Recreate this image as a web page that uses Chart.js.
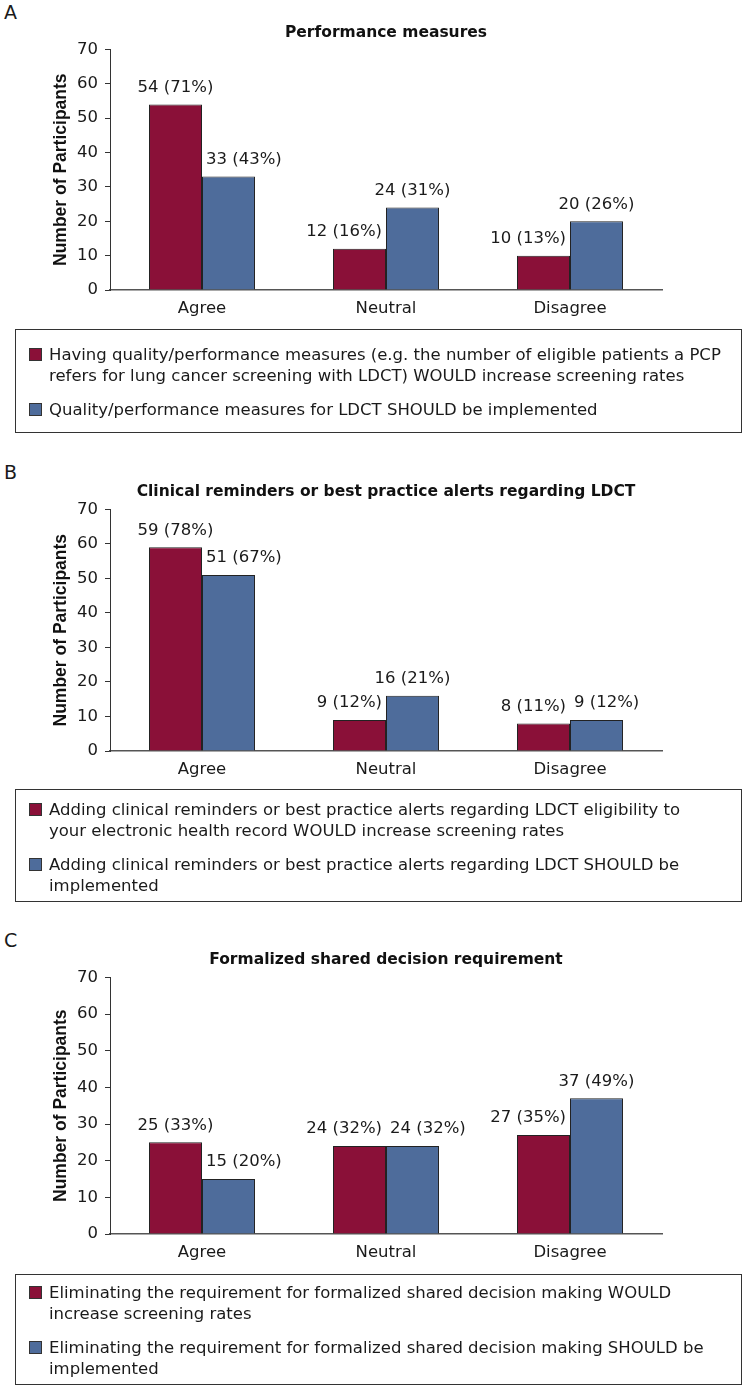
<!DOCTYPE html>
<html>
<head>
<meta charset="utf-8">
<title>LDCT survey - panels A, B, C</title>
<script src="https://cdn.jsdelivr.net/npm/chart.js@4.4.1/dist/chart.umd.min.js"></script>
<style>
  body { margin: 0; background: #fff; }
  #page { position: relative; width: 744px; height: 1386px; overflow: hidden;
          font-family: "DejaVu Sans", sans-serif; color: #1a1a1a; }
  .panel-letter { position: absolute; left: 4px; font-size: 19px; line-height: 20px; }
  #page canvas { position: absolute; left: 0; }
  .legend-box { position: absolute; left: 15px; width: 727px; border: 1px solid #333;
                box-sizing: border-box; font-size: 16.5px; line-height: 21px; }
  .legend-item { position: relative; padding-left: 33px; white-space: pre; margin-bottom: 13px; }
  .legend-item:last-child { margin-bottom: 0; }
  .legend-item .swatch { position: absolute; left: 13px; top: 4px; width: 13px; height: 13px;
                         border: 1px solid #333; box-sizing: border-box; }
</style>
</head>
<body>
<div id="page"></div>
<script>
//--- Data
var categories = ['Agree', 'Neutral', 'Disagree'];
var yMax = 70;
var yStep = 10;
var yTitle = 'Number of Participants';

var titleA = 'Performance measures';
var wouldA = [54, 12, 10];
var wouldPctA = [71, 16, 13];
var shouldA = [33, 24, 20];
var shouldPctA = [43, 31, 26];
var legendA = [
    'Having quality/performance measures (e.g. the number of eligible patients a PCP\nrefers for lung cancer screening with LDCT) WOULD increase screening rates',
    'Quality/performance measures for LDCT SHOULD be implemented'
];

var titleB = 'Clinical reminders or best practice alerts regarding LDCT';
var wouldB = [59, 9, 8];
var wouldPctB = [78, 12, 11];
var shouldB = [51, 16, 9];
var shouldPctB = [67, 21, 12];
var legendB = [
    'Adding clinical reminders or best practice alerts regarding LDCT eligibility to\nyour electronic health record WOULD increase screening rates',
    'Adding clinical reminders or best practice alerts regarding LDCT SHOULD be\nimplemented'
];

var titleC = 'Formalized shared decision requirement';
var wouldC = [25, 24, 27];
var wouldPctC = [33, 32, 35];
var shouldC = [15, 24, 37];
var shouldPctC = [20, 32, 49];
var legendC = [
    'Eliminating the requirement for formalized shared decision making WOULD\nincrease screening rates',
    'Eliminating the requirement for formalized shared decision making SHOULD be\nimplemented'
];

var wouldColor = '#8a1038';
var shouldColor = '#4e6c9b';

//--- Value labels above the bars, pushed aside when they would hit the other bar
var barLabels = {
    id: 'barLabels',
    afterDatasetsDraw: function (chart, args, opts) {
        var ctx = chart.ctx;
        var redBars = chart.getDatasetMeta(0).data;
        var blueBars = chart.getDatasetMeta(1).data;
        var sets = chart.data.datasets;
        ctx.save();
        ctx.font = '16.5px "DejaVu Sans"';
        ctx.fillStyle = '#1a1a1a';
        ctx.textAlign = 'center';
        ctx.textBaseline = 'middle';
        for (var i = 0; i < redBars.length; i++) {
            var r = redBars[i], b = blueBars[i];
            var tr = sets[0].data[i] + ' (' + opts.percents[0][i] + '%)';
            var tb = sets[1].data[i] + ' (' + opts.percents[1][i] + '%)';
            var wr = ctx.measureText(tr).width;
            var wb = ctx.measureText(tb).width;
            var edge = (r.x + b.x) / 2;
            var yr = r.y - opts.lift, yb = b.y - opts.lift;
            var xr = r.x, xb = b.x;
            var clash = Math.abs(yr - yb) < 18;
            if (clash || yr + 9 > b.y) xr = Math.min(xr, edge - opts.gap - wr / 2);
            if (clash || yb + 9 > r.y) xb = Math.max(xb, edge + opts.gap + wb / 2);
            ctx.fillText(tr, xr, yr);
            ctx.fillText(tb, xb, yb);
        }
        ctx.restore();
    }
};

function makePanel(p) {
    var page = document.getElementById('page');

    var letter = document.createElement('div');
    letter.className = 'panel-letter';
    letter.style.top = (p.letterY - 10) + 'px';
    letter.textContent = p.letter;
    page.appendChild(letter);

    var canvas = document.createElement('canvas');
    canvas.width = 744;
    canvas.height = p.canvasHeight + 42;
    canvas.style.top = p.canvasTop + 'px';
    page.appendChild(canvas);

    var chart = new Chart(canvas, {
        type: 'bar',
        data: {
            labels: categories,
            datasets: [
                {
                    label: p.legend[0],
                    data: p.would,
                    backgroundColor: wouldColor,
                    borderColor: '#222',
                    borderWidth: 1,
                    categoryPercentage: 0.576,
                    barPercentage: 1.0
                },
                {
                    label: p.legend[1],
                    data: p.should,
                    backgroundColor: shouldColor,
                    borderColor: '#222',
                    borderWidth: 1,
                    categoryPercentage: 0.576,
                    barPercentage: 1.0
                }
            ]
        },
        options: {
            responsive: false,
            animation: false,
            devicePixelRatio: 1,
            layout: { padding: { left: 0, right: 82, top: 0, bottom: 0 } },
            plugins: {
                legend: { display: false },
                tooltip: { enabled: false },
                title: {
                    display: true,
                    text: p.title,
                    fullSize: false,
                    color: '#111',
                    font: { family: 'DejaVu Sans', size: 15.5, weight: 'bold', lineHeight: 1.2 },
                    padding: { top: p.titleTop, bottom: p.titleBottom }
                },
                barLabels: { percents: p.percents, lift: 17, gap: 4 }
            },
            scales: {
                x: {
                    grid: { display: false },
                    border: { display: true, color: '#555', width: 1.5 },
                    ticks: {
                        color: '#1a1a1a',
                        padding: 1,
                        font: { family: 'DejaVu Sans', size: 16.5 }
                    },
                    afterFit: function (scale) { scale.height = 42; }
                },
                y: {
                    min: 0,
                    max: yMax,
                    grid: { drawOnChartArea: false, drawTicks: true, tickLength: 5, color: '#333' },
                    border: { display: true, color: '#333', width: 1 },
                    ticks: {
                        stepSize: yStep,
                        color: '#1a1a1a',
                        padding: 7,
                        font: { family: 'DejaVu Sans', size: 16.5 }
                    },
                    title: {
                        display: true,
                        text: yTitle,
                        color: '#111',
                        font: { family: 'Liberation Sans', size: 17.5, weight: 'bold', lineHeight: 1.2 },
                        padding: { top: 51, bottom: 0 }
                    },
                    afterFit: function (scale) { scale.width = 110; }
                }
            }
        },
        plugins: [barLabels]
    });

    // legend box built from the chart's datasets
    var box = document.createElement('div');
    box.className = 'legend-box';
    box.style.top = p.legendTop + 'px';
    box.style.height = p.legendHeight + 'px';
    box.style.paddingTop = p.legendPad + 'px';
    chart.data.datasets.forEach(function (ds) {
        var item = document.createElement('div');
        item.className = 'legend-item';
        var sw = document.createElement('span');
        sw.className = 'swatch';
        sw.style.background = ds.backgroundColor;
        item.appendChild(sw);
        item.appendChild(document.createTextNode(ds.label));
        box.appendChild(item);
    });
    page.appendChild(box);
}

//--- start ....
// canvasHeight = distance from canvas top to the zero line
makePanel({
    letter: 'A', letterY: 12,
    title: titleA, would: wouldA, should: shouldA, percents: [wouldPctA, shouldPctA], legend: legendA,
    canvasTop: 0, canvasHeight: 290, titleTop: 23.4, titleBottom: 7.4,
    legendTop: 329, legendHeight: 104, legendPad: 13.5
});
makePanel({
    letter: 'B', letterY: 472,
    title: titleB, would: wouldB, should: shouldB, percents: [wouldPctB, shouldPctB], legend: legendB,
    canvasTop: 460, canvasHeight: 291, titleTop: 22.4, titleBottom: 8.4,
    legendTop: 789, legendHeight: 113, legendPad: 8.5
});
makePanel({
    letter: 'C', letterY: 940,
    title: titleC, would: wouldC, should: shouldC, percents: [wouldPctC, shouldPctC], legend: legendC,
    canvasTop: 928, canvasHeight: 306, titleTop: 22.4, titleBottom: 8.4,
    legendTop: 1274, legendHeight: 111, legendPad: 7
});
console.log('charts drawn');
</script>
</body>
</html>
